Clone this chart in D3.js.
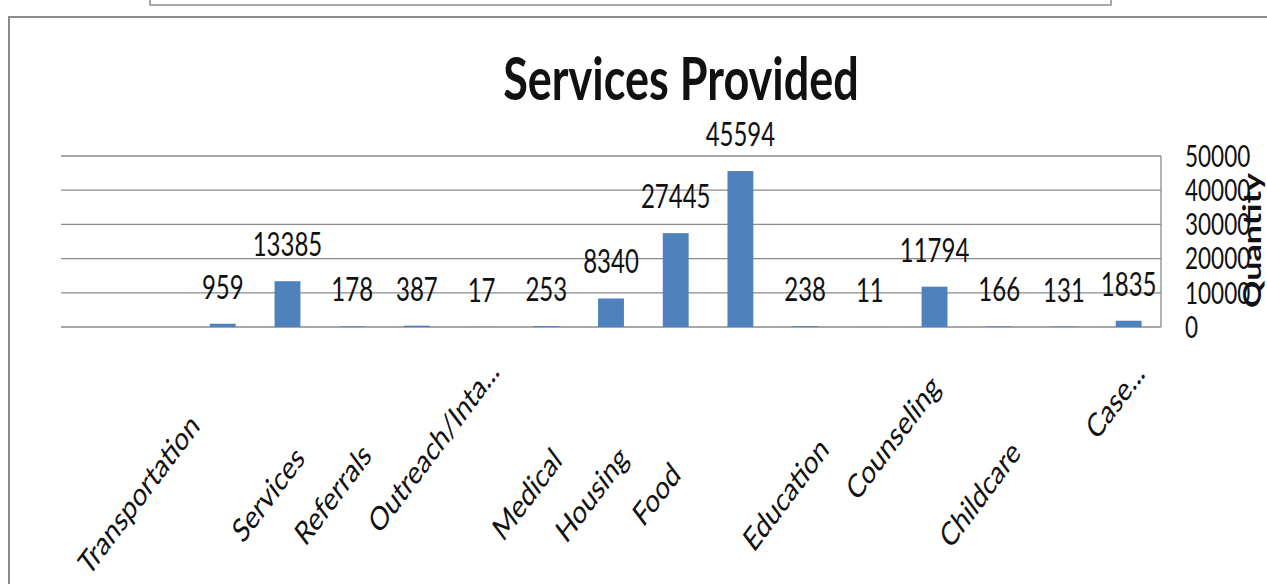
<!DOCTYPE html>
<html><head><meta charset="utf-8">
<script src="https://cdn.jsdelivr.net/npm/d3@7/dist/d3.min.js"></script>
<style>body{margin:0;background:#fff;overflow:hidden}</style>
</head><body><svg id="c" width="1267" height="584"></svg>
<script>
// ---- data ----
const categories = ["Transportation","","Services","Referrals","Outreach/Inta...","","Medical","Housing","Food","","Education","Counseling","","Childcare","Case...","",""];
const values = [null,null,959,13385,178,387,17,253,8340,27445,45594,238,11,11794,166,131,1835];
const yTicks = [0,10000,20000,30000,40000,50000];
const title = "Services Provided";
const yTitle = "Quantity";

// ---- layout ----
const W = 1267, H = 584;
const plot = {left: 61, right: 1161, top: 156, bottom: 327};
const SX = 0.75;           // horizontal compression of text
const FONT = "Lato, 'Open Sans', sans-serif";
const GRID = "#8a8a8a";
const BAR = "#4f81bd";

const svg = d3.select("#c");
svg.append("rect").attr("width", W).attr("height", H).attr("fill", "#fff");

// frame pieces
svg.append("rect").attr("x", 150).attr("y", -6).attr("width", 961).attr("height", 11)
  .attr("fill", "#fff").attr("stroke", "#8c8c8c").attr("stroke-width", 1.5);
svg.append("path").attr("d", `M9,${H} V17 H${W}`).attr("fill", "none")
  .attr("stroke", "#8c8c8c").attr("stroke-width", 2);

const x = d3.scaleBand().domain(d3.range(categories.length))
  .range([plot.left, plot.right]).paddingInner(0).paddingOuter(0);
const bw = x.bandwidth();
const barW = bw / 2.5;
const y = d3.scaleLinear().domain([0, 50000]).range([plot.bottom, plot.top]);

// gridlines
svg.append("g").selectAll("line").data(yTicks).join("line")
  .attr("x1", plot.left).attr("x2", plot.right)
  .attr("y1", d => y(d)).attr("y2", d => y(d))
  .attr("stroke", GRID).attr("stroke-width", 1.3);
// right axis line
svg.append("line").attr("x1", plot.right).attr("x2", plot.right)
  .attr("y1", y(50000)).attr("y2", y(0)).attr("stroke", GRID).attr("stroke-width", 1.3);

// y tick labels (right)
svg.append("g").selectAll("text").data(yTicks).join("text")
  .attr("transform", d => `translate(1185,${y(d)}) scale(${SX},1)`)
  .attr("dy", "0.36em").attr("font-family", FONT).attr("font-size", 30)
  .attr("fill", "#111").text(d => d);

// y axis title
svg.append("text")
  .attr("transform", `translate(1252,${(plot.top + plot.bottom) / 2 - 1}) scale(${SX},1) rotate(-90)`)
  .attr("text-anchor", "middle").attr("dy", "0.36em")
  .attr("font-family", FONT).attr("font-weight", "bold").attr("font-size", 34)
  .attr("fill", "#111").text(yTitle);

// bars
const pts = values.map((v, i) => ({i, v})).filter(d => d.v !== null);
svg.append("g").selectAll("rect").data(pts).join("rect")
  .attr("x", d => x(d.i) + (bw - barW) / 2).attr("width", barW)
  .attr("y", d => y(d.v)).attr("height", d => y(0) - y(d.v))
  .attr("fill", BAR);

// data labels
svg.append("g").selectAll("text").data(pts).join("text")
  .attr("transform", d => `translate(${x(d.i) + bw / 2},${y(d.v) - 25}) scale(${SX},1)`)
  .attr("text-anchor", "middle").attr("font-family", FONT).attr("font-size", 32)
  .attr("fill", "#111").text(d => d.v);

// category labels (rotated)
const nudge = {"Outreach/Inta...": 68, "Counseling": 80, "Case...": 133};
const cats = categories.map((c, i) => ({c, i})).filter(d => d.c !== "");
svg.append("g").selectAll("text").data(cats).join("text")
  .attr("transform", d => `translate(${x(d.i) + bw / 2 + 0.7 * bw},494) scale(${SX},1) rotate(-45)`)
  .attr("x", d => nudge[d.c] || 0)
  .attr("text-anchor", "middle").attr("dy", "0.36em")
  .attr("font-family", FONT).attr("font-size", 33)
  .attr("fill", "#111").text(d => d.c);

// title
svg.append("text")
  .attr("transform", `translate(681,100) scale(${SX},1)`)
  .attr("text-anchor", "middle").attr("font-family", FONT).attr("font-weight", "bold")
  .attr("font-size", 60).attr("fill", "#111").text(title);
</script></body></html>
